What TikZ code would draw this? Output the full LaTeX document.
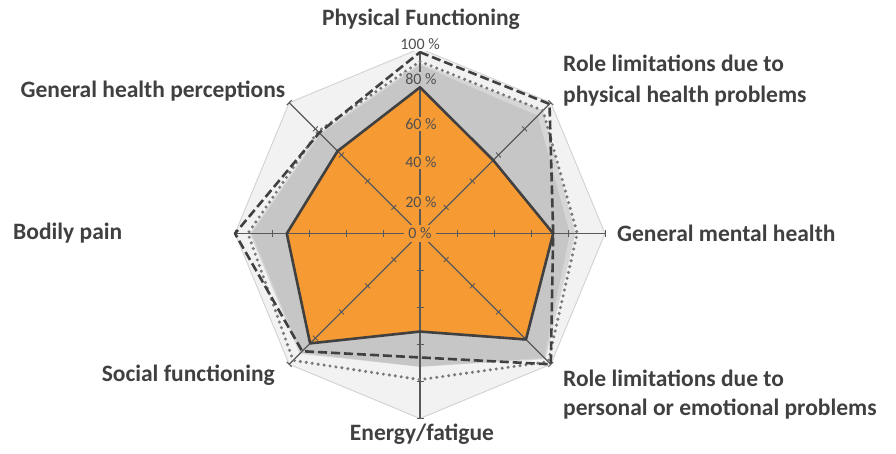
\documentclass[tikz,border=0pt]{standalone}
\usepackage{fontspec}
\setmainfont{Carlito}
\usetikzlibrary{calc}
\definecolor{orangefill}{RGB}{246,154,52}
\definecolor{darkline}{RGB}{64,64,64}
\definecolor{axisgrey}{RGB}{89,89,89}
\definecolor{outerfill}{RGB}{242,242,242}
\definecolor{outerline}{RGB}{210,210,210}
\definecolor{midgrey}{RGB}{198,198,198}
\definecolor{lightgrey}{RGB}{214,214,214}
\definecolor{dotgrey}{RGB}{120,120,120}
\definecolor{labelgrey}{RGB}{64,64,64}
\definecolor{ticklabel}{RGB}{80,80,80}
\newcommand\rpoly[8]{(-90:{1.85*#1}) -- (-45:{1.85*#2}) -- (0:{1.85*#3}) -- (45:{1.85*#4}) -- (90:{1.85*#5}) -- (135:{1.85*#6}) -- (180:{1.85*#7}) -- (225:{1.85*#8}) -- cycle}
\begin{document}
\begin{tikzpicture}[x=1pt,y=-1pt,
  catlabel/.style={font=\bfseries\fontsize{23.5}{31}\selectfont, text=labelgrey, inner sep=0pt},
  pctlabel/.style={font=\fontsize{16}{18}\selectfont, text=ticklabel, inner xsep=2pt, inner ysep=1pt},
  axisline/.style={draw=axisgrey, line width=1.1pt},
  tickmark/.style={draw=axisgrey, line width=0.9pt},
  series/.style={line width=2.6pt, line join=round},
]
\useasboundingbox (0,0) rectangle (896,454);
\coordinate (c) at (420,233.5);
\begin{scope}[shift={(c)}]
  \filldraw[fill=outerfill, draw=outerline, line width=0.9pt] \rpoly{100}{100}{100}{100}{100}{100}{100}{100};
  \fill[lightgrey] \rpoly{92}{94}{84}{96}{72}{92}{92}{77};
  \fill[midgrey] \rpoly{91}{90}{81}{95}{72}{91}{91}{76};
  \fill[orangefill] \rpoly{79}{56}{72}{81}{53}{84}{72}{63};
\end{scope}
\foreach \a in {-90,-45,0,45,90,135,180,225} {
  \draw[axisline] (c) -- ($(c)+(\a:185)$);
  \foreach \k in {1,...,5} {
    \draw[tickmark] ($(c)+(\a:{37*\k})+({\a+90}:3.5)$) -- ($(c)+(\a:{37*\k})+({\a-90}:3.5)$);
  }
}
\begin{scope}[shift={(c)}]
  \draw[series, draw=darkline] \rpoly{79}{56}{72}{81}{53}{84}{72}{63};
  \draw[series, line width=3.4pt, draw=dotgrey, line cap=round, dash pattern=on 0pt off 6pt] \rpoly{93}{94}{85}{98}{79}{97}{93}{78};
  \draw[series, draw=darkline, dash pattern=on 9pt off 4pt] \rpoly{98}{99}{72}{100}{67}{90}{100}{77};
\end{scope}
\node[pctlabel, fill=white] (p100) at (420,44) {100 \%};
\node[pctlabel, fill=midgrey] (p80) at (421,79) {80 \%};
\node[pctlabel, fill=orangefill] (p60) at (421,124) {60 \%};
\node[pctlabel, fill=orangefill] (p40) at (421,162) {40 \%};
\node[pctlabel, fill=orangefill] (p20) at (421,202) {20 \%};
\node[pctlabel, fill=orangefill, inner xsep=4pt, inner ysep=3pt] (p0) at (c) {0 \%};
\node[catlabel, anchor=base] (pf) at (421,26) {Physical Functioning};
\node[catlabel, anchor=base west] (rpa) at (563,71.7) {Role limitations due to};
\node[catlabel, anchor=base west] (rpb) at (563,103) {physical health problems};
\node[catlabel, anchor=base west] (mh) at (617,242) {General mental health};
\node[catlabel, anchor=base west] (rea) at (563,386.7) {Role limitations due to};
\node[catlabel, anchor=base west] (reb) at (563,415) {personal or emotional problems};
\node[catlabel, anchor=base] (ef) at (422,440) {Energy/fatigue};
\node[catlabel, anchor=base east] (sf) at (275,381) {Social functioning};
\node[catlabel, anchor=base west] (bp) at (13,240) {Bodily pain};
\node[catlabel, anchor=base east] (gh) at (285.5,98) {General health perceptions};
\end{tikzpicture}
\end{document}
